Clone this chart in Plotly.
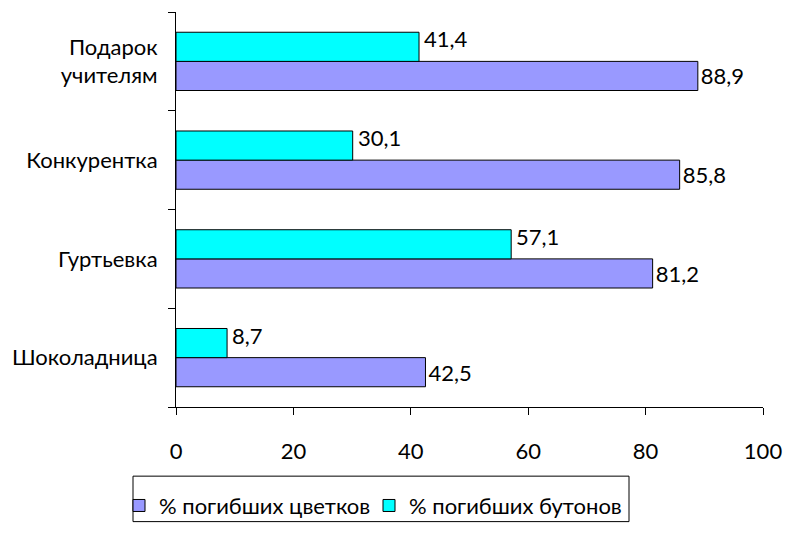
import plotly.graph_objects as go

categories = ["Шоколадница", "Гуртьевка", "Конкурентка", "Подарок<br>учителям"]
flowers = [42.5, 81.2, 85.8, 88.9]
buds = [8.7, 57.1, 30.1, 41.4]
series_names = ["% погибших цветков", "% погибших бутонов"]
x_ticks = [0, 20, 40, 60, 80, 100]

FONT = "Lato"
FS = 22
W, H = 785, 539
# plot area in page pixels: x 176..763, y 12..429
ML, MT = 176, 12
MR = W - 763
MB = H - 429
PW, PH = W - ML - MR, H - MT - MB
BARGAP = 0.41


def fmt(v):
    return f"{v:.1f}".replace(".", ",")


def px_x(px):
    return (px - ML) / PW


def px_y(py):
    return (H - MB - py) / PH


fig = go.Figure()
fig.add_trace(go.Bar(
    y=categories, x=flowers, orientation="h", name=series_names[0],
    marker=dict(color="#9999FF", line=dict(color="black", width=1)),
    text=[fmt(v) for v in flowers], textposition="outside",
    textfont=dict(family=FONT, size=FS, color="black"), cliponaxis=False,
    legend="legend",
))
fig.add_trace(go.Bar(
    y=categories, x=buds, orientation="h", name=series_names[1],
    marker=dict(color="#00FFFF", line=dict(color="black", width=1)),
    legend="legend2",
))

# labels for the upper (buds) bars, sitting slightly above the bar centre
half = (1 - BARGAP) / 4
for i, v in enumerate(buds):
    fig.add_annotation(
        x=v, y=i + half, xref="x", yref="y", text=fmt(v), showarrow=False,
        xanchor="left", yanchor="middle", xshift=3, yshift=8,
        font=dict(family=FONT, size=FS, color="black"),
    )

# legend frame (bottom edge runs off the picture as in the original)
fig.add_shape(
    type="rect", xref="paper", yref="paper",
    x0=px_x(133), x1=px_x(629),
    y0=px_y(550), y1=px_y(502),
    line=dict(color="black", width=1), fillcolor="rgba(0,0,0,0)", layer="above",
)

legend_common = dict(
    orientation="h", xanchor="left", yanchor="top", y=px_y(511),
    borderwidth=0, bgcolor="rgba(0,0,0,0)",
    font=dict(family=FONT, size=FS, color="black"), itemwidth=30,
)

fig.update_layout(
    width=W, height=H,
    margin=dict(l=ML, r=MR, t=MT, b=MB),
    paper_bgcolor="white", plot_bgcolor="white",
    barmode="group", bargap=BARGAP, bargroupgap=0,
    font=dict(family=FONT, size=FS, color="black"),
    showlegend=True,
    legend=dict(x=px_x(119), **legend_common),
    legend2=dict(x=px_x(369), **legend_common),
)
fig.update_xaxes(
    range=[0, 100], tickvals=x_ticks, ticktext=[str(t) for t in x_ticks],
    showgrid=False, zeroline=False, showline=True, linecolor="black", linewidth=1,
    ticks="outside", ticklen=7, tickcolor="black", tickwidth=1,
    ticklabelstandoff=18, automargin=False, ticklabeloverflow="allow",
    tickfont=dict(family=FONT, size=FS, color="black"),
)
fig.update_yaxes(
    type="category", categoryorder="array", categoryarray=categories,
    range=[-0.5, 3.5], tickson="boundaries",
    showgrid=False, zeroline=False, showline=True, linecolor="black", linewidth=1,
    ticks="outside", ticklen=7, tickcolor="black", tickwidth=1,
    ticklabelstandoff=13, automargin=False,
    tickfont=dict(family=FONT, size=FS, color="black"),
)

fig.write_html(
    "out.html",
    config={"displayModeBar": False},
    post_script="document.body.style.margin='0';document.body.style.overflow='hidden';",
)
